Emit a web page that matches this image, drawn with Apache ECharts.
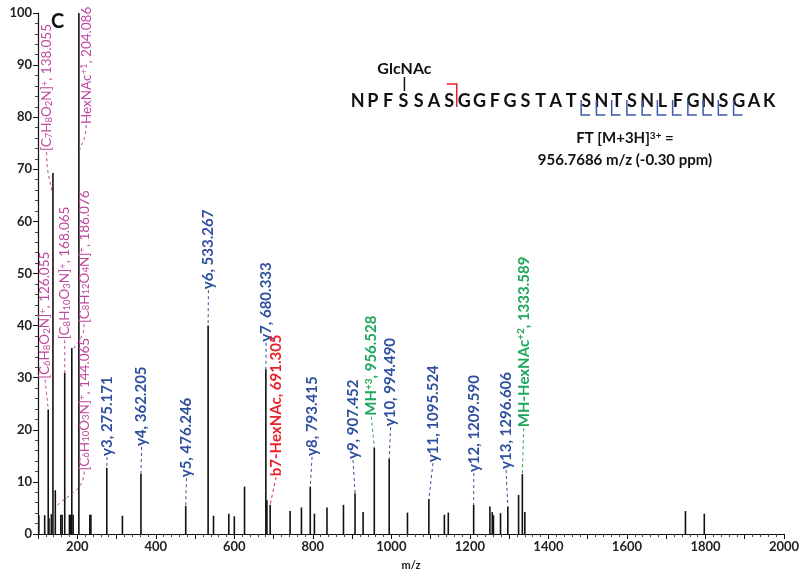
<!DOCTYPE html>
<html><head><meta charset="utf-8">
<script src="https://cdn.jsdelivr.net/npm/echarts@6/dist/echarts.min.js"></script>
<style>html,body{margin:0;padding:0;background:#fff}#c{width:800px;height:577px}</style>
</head><body><div id="c"></div>
<script>
// ---- data ----
const peakMz = [102, 117, 126.055, 128, 134, 138.055, 144.065, 158, 161.5, 168.065, 180, 183.5, 186.076, 189.5, 204.086, 232, 234.7, 275.171, 315, 362.205, 476.246, 533.267, 547, 586, 600, 626, 680.333, 683, 691.305, 742, 771, 793.415, 804, 836, 878, 907.452, 928, 956.528, 994.490, 1041, 1095.524, 1135, 1145, 1209.590, 1251, 1257, 1260, 1278, 1296.606, 1324, 1333.589, 1340, 1749, 1797];
const peakHeights = [3.6, 3.6, 23.9, 3.0, 3.8, 69.3, 8.4, 3.7, 3.7, 30.9, 3.7, 3.7, 35.7, 3.7, 100, 3.7, 3.7, 12.7, 3.5, 11.5, 5.4, 40, 3.5, 3.9, 3.4, 9.1, 31.6, 6.5, 5.6, 4.4, 5.1, 9.1, 3.9, 5.1, 5.6, 7.8, 4.2, 16.6, 14.4, 4.1, 6.7, 3.7, 4.1, 5.6, 5.3, 4.2, 3.6, 4.0, 5.3, 7.5, 11.5, 4.2, 4.4, 3.9];

// annotations: label text, the peak it points at, its kind
const annLabels = [
  '[C{s|6}H{s|8}O{s|2}N]{p|+}, 126.055',
  '[C{s|7}H{s|8}O{s|2}N]{p|+}, 138.055',
  '[C{s|6}H{s|10}O{s|3}N]{p|+}, 144.065',
  '[C{s|8}H{s|10}O{s|3}N]{p|+}, 168.065',
  '[C{s|8}H{s|12}O{s|4}N]{p|+}, 186.076',
  'HexNAc{p|+1}, 204.086',
  'y3, 275.171', 'y4, 362.205', 'y5, 476.246', 'y6, 533.267', 'y7, 680.333',
  'b7-HexNAc, 691.305',
  'y8, 793.415', 'y9, 907.452',
  'MH{p|+3}, 956.528',
  'y10, 994.490', 'y11, 1095.524', 'y12, 1209.590', 'y13, 1296.606',
  'MH-HexNAc{p|+2}, 1333.589'
];
const annPeakMz = [126.055, 138.055, 144.065, 168.065, 186.076, 204.086, 275.171, 362.205, 476.246, 533.267, 680.333, 691.305, 793.415, 907.452, 956.528, 994.490, 1095.524, 1209.590, 1296.606, 1333.589];
const annKind = ['oxonium','oxonium','oxonium','oxonium','oxonium','oxonium','y','y','y','y','y','b','y','y','mh','y','y','y','y','mh'];

// sequence panel
const sequence = 'NPFSSASGGFGSTATSNTSNLFGNSGAK';
const yIonNumbers = [3,4,5,6,7,8,9,10,11,12,13];
const bIonNumbers = [7];
const glycoSiteIndex = 3;
const precursorLine1 = 'FT [M+3H]{p|3+} =';
const precursorLine2 = '956.7686 m/z (-0.30 ppm)';

// ---- layout (text anchors in axis units; leader end overrides) ----
const annLayout = [
  {tx:118, ty:29.6},
  {tx:122, ty:73.3, ex:135.5, ey:65.5, curve:true},
  {tx:217.6, ty:12, ex:145, ey:5, curve:true},
  {tx:168.065, ty:37.2},
  {tx:217.6, ty:40.3, ex:190, ey:35.3, curve:true},
  {tx:222.7, ty:78.5, ex:205.5, ey:73.5, curve:true},
  {tx:276, ty:14.8}, {tx:364, ty:16.7}, {tx:478, ty:10.7}, {tx:534, ty:46.8}, {tx:681, ty:36.7},
  {tx:706.6, ty:10.9},
  {tx:798, ty:14.8}, {tx:902.5, ty:14.2},
  {tx:949, ty:22.5},
  {tx:998, ty:20.5}, {tx:1106, ty:13.6}, {tx:1210, ty:11.7}, {tx:1292, ty:12.3},
  {tx:1337, ty:20.3}
];
const kindColor = {oxonium:'#c0479e', y:'#2f4f9f', b:'#e8212b', mh:'#1fa65a'};
const kindFont = {oxonium:'13.5px', y:'bold 15px', b:'bold 15px', mh:'bold 15px'};
const FONT = "Lato, 'Open Sans', sans-serif";

const chart = echarts.init(document.getElementById('c'), null, {renderer:'canvas'});

function richFor(kind) {
  const bold = kind !== 'oxonium' ? 'bold' : 'normal';
  const fs = kind !== 'oxonium' ? 10 : 9.5;
  return {
    s: {fontSize: fs, lineHeight: 6, verticalAlign: 'bottom', fontFamily: FONT, fontWeight: bold},
    p: {fontSize: fs, lineHeight: 6, verticalAlign: 'top', fontFamily: FONT, fontWeight: bold}
  };
}

function heightOf(mz) { return peakHeights[peakMz.indexOf(mz)]; }

// sequence graphics
const seqX0 = 357.7, seqStep = 15.24, seqY = 101.5;
const letterX = i => seqX0 + i * seqStep;
const graphics = [];
graphics.push({type:'text', x:51, y:12, style:{text:'C', font:'bold 20px ' + FONT, fill:'#111', verticalAlign:'top'}});
for (let i = 0; i < sequence.length; i++) {
  graphics.push({type:'text', x:letterX(i), y:seqY, style:{text:sequence[i], font:'bold 18px ' + FONT, fill:'#111', align:'center', verticalAlign:'middle'}});
}
const gx = letterX(glycoSiteIndex) + 1;
graphics.push({type:'text', x:gx, y:69, style:{text:'GlcNAc', font:'bold 16px ' + FONT, fill:'#111', align:'center', verticalAlign:'middle'}});
graphics.push({type:'line', shape:{x1:gx, y1:77, x2:gx, y2:91}, style:{stroke:'#111', lineWidth:1.5}});
bIonNumbers.forEach(n => {
  const bx = (letterX(n-1) + letterX(n)) / 2;
  graphics.push({type:'polyline', shape:{points:[[bx-10,84],[bx,84],[bx,107]]}, style:{stroke:'#e8212b', lineWidth:1.5, fill:null}});
});
yIonNumbers.forEach(n => {
  const k = sequence.length - n;
  const cx = (letterX(k-1) + letterX(k)) / 2 + 2.5;
  graphics.push({type:'polyline', shape:{points:[[cx,100],[cx,115],[cx+9,115]]}, style:{stroke:'#3c5aa8', lineWidth:1.5, fill:null}});
});
graphics.push({type:'text', x:625, y:138, style:{text:precursorLine1, font:'bold 15px ' + FONT, fill:'#111', align:'center', verticalAlign:'middle', rich:{p:{fontSize:10, lineHeight:6, verticalAlign:'top', fontWeight:'bold', fontFamily:FONT}}}});
graphics.push({type:'text', x:625, y:160, style:{text:precursorLine2, font:'bold 15px ' + FONT, fill:'#111', align:'center', verticalAlign:'middle'}});

const option = {
  animation: false,
  backgroundColor: '#fff',
  grid: {left:38, right:16, top:13, bottom:43, containLabel:false, outerBoundsMode:'none'},
  xAxis: {
    type:'value', min:100, max:2000, interval:100,
    name:'m/z', nameLocation:'middle', nameGap:26,
    nameTextStyle:{fontSize:11, fontWeight:'bold', color:'#222', fontFamily:FONT},
    axisLine:{lineStyle:{color:'#111', width:1.2}},
    axisTick:{show:true, length:5, lineStyle:{color:'#111'}},
    minorTick:{show:true, splitNumber:5, length:3, lineStyle:{color:'#444'}},
    splitLine:{show:false},
    axisLabel:{formatter: v => (v % 200 === 0 ? String(v) : ''), fontSize:13, fontWeight:'bold', color:'#222', fontFamily:FONT, margin:6}
  },
  yAxis: {
    type:'value', min:0, max:100, interval:10,
    name:'Relative Abundance', nameLocation:'middle', nameGap:20,
    nameTextStyle:{fontSize:11, color:'#222', fontFamily:FONT},
    axisLine:{show:true, lineStyle:{color:'#111', width:1.2}},
    axisTick:{show:true, length:5, lineStyle:{color:'#111'}},
    minorTick:{show:true, splitNumber:5, length:3, lineStyle:{color:'#444'}},
    splitLine:{show:false},
    axisLabel:{fontSize:13, fontWeight:'bold', color:'#222', fontFamily:FONT, margin:6}
  },
  graphic: graphics,
  series: [
    {
      type:'bar', barWidth:1.6,
      data: peakMz.map((m,i) => [m, peakHeights[i]]),
      itemStyle:{color:'#111'}
    },
    {
      type:'custom', clip:false, z:5,
      data: annLayout.map(L => [L.tx, L.ty]),
      encode:{x:0, y:1},
      renderItem: function(params, api) {
        const i = params.dataIndex;
        const L = annLayout[i];
        const kind = annKind[i];
        const col = kindColor[kind];
        const p0 = api.coord([L.tx, L.ty]);
        const endMz = L.ex != null ? L.ex : annPeakMz[i];
        const endY = L.ey != null ? L.ey : heightOf(annPeakMz[i]);
        const p1 = api.coord([endMz, endY]);
        const lineStyle = {stroke:col, lineWidth:1, lineDash:[3,3], fill:null};
        const leader = L.curve
          ? {type:'bezierCurve', shape:{x1:p0[0], y1:p0[1], x2:p1[0], y2:p1[1], cpx1:p0[0], cpy1:p0[1] + (p1[1]-p0[1])*0.6, cpx2:p1[0] + (p0[0]-p1[0])*0.2, cpy2:p1[1] - (p1[1]-p0[1])*0.3}, style:lineStyle}
          : {type:'line', shape:{x1:p0[0], y1:p0[1], x2:p1[0], y2:p1[1]}, style:lineStyle};
        return {
          type:'group',
          children:[
            leader,
            {type:'text', x:p0[0], y:p0[1]-1, rotation:Math.PI/2,
             style:{text:annLabels[i], fill:col, font:kindFont[kind] + ' ' + FONT, align:'left', verticalAlign:'middle', rich:richFor(kind)}}
          ]
        };
      }
    }
  ]
};
chart.setOption(option);
</script>
</body></html>
